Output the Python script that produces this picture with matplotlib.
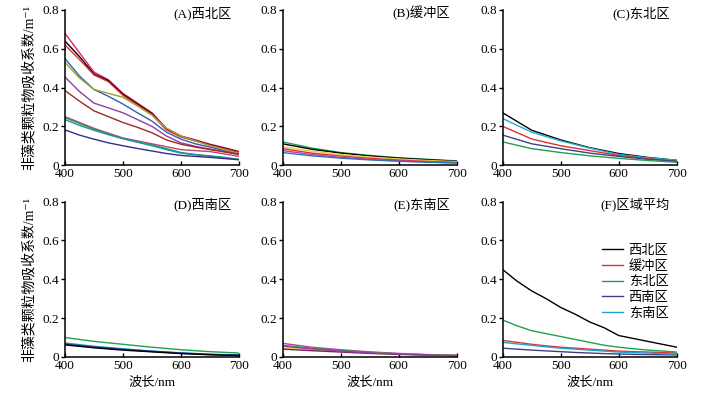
import numpy as np
import matplotlib.pyplot as plt

plt.rcParams['font.family'] = ['Liberation Serif', 'Noto Sans CJK SC', 'DejaVu Sans']
plt.rcParams['font.size'] = 9

wl = [400, 450, 500, 550, 600, 650, 700]
wl_fine = [400, 425, 450, 475, 500, 525, 550, 575, 600, 625, 650, 675, 700]

# (A) 西北区
a_colors = ['#e0206e', 'black', '#e03030', '#3060b0', '#a0a030', '#9040a0',
            '#a02828', '#c04080', '#20a050', '#2090a0', '#303090']
a_vals = [
    [0.68, 0.58, 0.48, 0.44, 0.37, 0.32, 0.27, 0.19, 0.15, 0.13, 0.108, 0.09, 0.07],
    [0.64, 0.56, 0.47, 0.435, 0.365, 0.315, 0.265, 0.185, 0.148, 0.127, 0.105, 0.087, 0.068],
    [0.62, 0.545, 0.465, 0.43, 0.36, 0.31, 0.26, 0.182, 0.145, 0.125, 0.103, 0.085, 0.066],
    [0.55, 0.46, 0.39, 0.355, 0.315, 0.27, 0.227, 0.17, 0.134, 0.11, 0.093, 0.075, 0.058],
    [0.53, 0.45, 0.39, 0.37, 0.35, 0.305, 0.258, 0.19, 0.15, 0.125, 0.10, 0.08, 0.06],
    [0.455, 0.38, 0.32, 0.295, 0.27, 0.235, 0.20, 0.15, 0.115, 0.097, 0.083, 0.07, 0.057],
    [0.385, 0.33, 0.28, 0.25, 0.22, 0.195, 0.167, 0.13, 0.108, 0.093, 0.08, 0.068, 0.055],
    [0.25, 0.22, 0.19, 0.165, 0.14, 0.125, 0.11, 0.095, 0.08, 0.075, 0.07, 0.058, 0.045],
    [0.245, 0.215, 0.185, 0.16, 0.138, 0.12, 0.105, 0.085, 0.065, 0.055, 0.048, 0.04, 0.03],
    [0.235, 0.205, 0.18, 0.157, 0.136, 0.118, 0.10, 0.08, 0.062, 0.053, 0.046, 0.037, 0.028],
    [0.182, 0.155, 0.134, 0.115, 0.10, 0.086, 0.073, 0.06, 0.05, 0.045, 0.04, 0.034, 0.028],
]

# (B) 缓冲区
b_colors = ['#20a050', 'black', '#e8d040', '#e03030', '#c040a0', '#3070c0']
b_vals = [
    [0.12, 0.088, 0.065, 0.05, 0.038, 0.03, 0.022],
    [0.11, 0.082, 0.062, 0.047, 0.036, 0.028, 0.02],
    [0.095, 0.072, 0.055, 0.042, 0.032, 0.024, 0.018],
    [0.085, 0.062, 0.047, 0.035, 0.026, 0.019, 0.014],
    [0.075, 0.055, 0.04, 0.03, 0.022, 0.016, 0.012],
    [0.065, 0.048, 0.036, 0.027, 0.02, 0.015, 0.011],
]

# (C) 东北区
c_colors = ['black', '#20b0d0', '#e03030', '#404090', '#20a050']
c_vals = [
    [0.27, 0.18, 0.13, 0.09, 0.06, 0.04, 0.025],
    [0.24, 0.17, 0.125, 0.088, 0.055, 0.038, 0.025],
    [0.20, 0.135, 0.10, 0.075, 0.05, 0.033, 0.02],
    [0.155, 0.11, 0.085, 0.062, 0.045, 0.03, 0.02],
    [0.12, 0.085, 0.065, 0.048, 0.035, 0.024, 0.015],
]

# (D) 西南区
d_colors = ['#20a050', '#20b0d0', '#3060b0', '#303090', 'black']
d_vals = [
    [0.10, 0.08, 0.065, 0.05, 0.037, 0.027, 0.02],
    [0.072, 0.055, 0.042, 0.03, 0.021, 0.014, 0.01],
    [0.068, 0.052, 0.04, 0.029, 0.02, 0.013, 0.009],
    [0.065, 0.05, 0.038, 0.028, 0.019, 0.012, 0.008],
    [0.062, 0.047, 0.035, 0.026, 0.017, 0.011, 0.007],
]

# (E) 东南区
e_colors = ['#c040a0', '#20a050', '#e8d040', '#802060', '#9040a0']
e_vals = [
    [0.07, 0.05, 0.037, 0.026, 0.018, 0.012, 0.009],
    [0.06, 0.045, 0.033, 0.024, 0.016, 0.011, 0.008],
    [0.045, 0.036, 0.027, 0.02, 0.014, 0.01, 0.007],
    [0.04, 0.032, 0.025, 0.018, 0.013, 0.009, 0.006],
    [0.055, 0.041, 0.03, 0.021, 0.015, 0.01, 0.007],
]

# (F) 区域平均
f_names = ['西北区', '缓冲区', '东北区', '西南区', '东南区']
f_colors = ['black', '#e03030', '#20a050', '#404080', '#20a0d0']
f_vals = [
    [0.45, 0.39, 0.34, 0.30, 0.255, 0.22, 0.18, 0.15, 0.11, 0.095, 0.08, 0.065, 0.05],
    [0.085, 0.075, 0.065, 0.057, 0.05, 0.045, 0.04, 0.035, 0.03, 0.027, 0.025, 0.022, 0.02],
    [0.19, 0.16, 0.135, 0.12, 0.105, 0.09, 0.075, 0.06, 0.05, 0.042, 0.035, 0.03, 0.025],
    [0.045, 0.04, 0.035, 0.031, 0.027, 0.023, 0.02, 0.017, 0.015, 0.013, 0.012, 0.011, 0.01],
    [0.075, 0.067, 0.06, 0.052, 0.045, 0.04, 0.035, 0.03, 0.025, 0.022, 0.02, 0.017, 0.015],
]

titles = ['(A)西北区', '(B)缓冲区', '(C)东北区', '(D)西南区', '(E)东南区', '(F)区域平均']
panels = [(wl_fine, a_vals, a_colors), (wl, b_vals, b_colors), (wl, c_vals, c_colors),
          (wl, d_vals, d_colors), (wl, e_vals, e_colors), (wl_fine, f_vals, f_colors)]

fig = plt.figure(figsize=(7.05, 3.97), dpi=100)
lefts = [0.092, 0.401, 0.713]
bottoms = [0.584, 0.101]
w, h = 0.247, 0.391

for i, (x, vals, cols) in enumerate(panels):
    r, c = divmod(i, 3)
    ax = fig.add_axes([lefts[c], bottoms[r], w, h])
    for k, (v, col) in enumerate(zip(vals, cols)):
        lab = f_names[k] if i == 5 else None
        ax.plot(x, v, color=col, lw=1.0, label=lab)
    ax.set_xlim(400, 700)
    ax.set_ylim(0, 0.8)
    ax.set_xticks([400, 500, 600, 700])
    ax.set_yticks([0, 0.2, 0.4, 0.6, 0.8])
    ax.set_yticklabels(['0', '0.2', '0.4', '0.6', '0.8'])
    for s in ['top', 'right']:
        ax.spines[s].set_visible(False)
    for s in ['left', 'bottom']:
        ax.spines[s].set_linewidth(1.1)
    ax.tick_params(axis='y', direction='out', length=3, width=1, pad=1, labelsize=9.5)
    ax.tick_params(axis='x', direction='in', length=3, width=1, pad=2, labelsize=9.5)
    ax.text(0.96, 0.98, titles[i], transform=ax.transAxes, ha='right', va='center',
            fontsize=9.5)
    if c == 0:
        ax.set_ylabel('非藻类颗粒物吸收系数/m⁻¹', fontsize=10, labelpad=5)
    if r == 1:
        ax.set_xlabel('波长/nm', fontsize=9.5, labelpad=4)
    if i == 5:
        ax.legend(loc='upper right', bbox_to_anchor=(1.02, 0.80), frameon=False,
                  handlelength=1.6, handletextpad=0.4, labelspacing=0.25,
                  fontsize=9.5)

fig.savefig('out.png', dpi=100)
